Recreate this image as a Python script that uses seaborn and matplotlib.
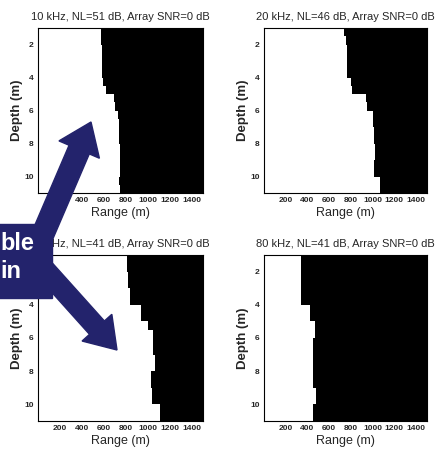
import matplotlib
matplotlib.use("Agg")
import matplotlib.pyplot as plt
from matplotlib.patches import FancyArrow, Rectangle
import seaborn as sns

# ----------------------------- #
# Data: detection boundary (m) per 0.5 m depth cell
# ----------------------------- #
depth_edges = [1.0, 1.5, 2.0, 2.5, 3.0, 3.5, 4.0, 4.5, 5.0, 5.5, 6.0,
               6.5, 7.0, 7.5, 8.0, 8.5, 9.0, 9.5, 10.0, 10.5, 11.0]

titles = ["10 kHz, NL=51 dB, Array SNR=0 dB",
          "20 kHz, NL=46 dB, Array SNR=0 dB",
          "40 kHz, NL=41 dB, Array SNR=0 dB",
          "80 kHz, NL=41 dB, Array SNR=0 dB"]

edge_10k = [575, 575, 578, 580, 582, 585, 595, 620, 690, 700,
            730, 735, 740, 740, 745, 745, 745, 745, 740, 745]
edge_20k = [733, 755, 760, 760, 767, 767, 800, 810, 940, 945,
            1000, 1005, 1015, 1015, 1018, 1018, 1010, 1015, 1065, 1065]
edge_40k = [805, 805, 820, 820, 835, 835, 940, 940, 1000, 1045,
            1045, 1045, 1065, 1065, 1030, 1030, 1040, 1040, 1105, 1105]
edge_80k = [343, 343, 343, 343, 343, 343, 420, 420, 466, 466,
            450, 450, 450, 450, 450, 450, 481, 481, 450, 450]
edges = [edge_10k, edge_20k, edge_40k, edge_80k]

range_ticks = [200, 400, 600, 800, 1000, 1200, 1400]
depth_ticks = [2, 4, 6, 8, 10]

# ----------------------------- #
# Figure
# ----------------------------- #
sns.set_theme(style="white")
plt.rcParams["font.family"] = ["Liberation Sans", "DejaVu Sans"]

W, H = 441, 458
fig = plt.figure(figsize=(W / 100, H / 100), dpi=100)
fig.patch.set_facecolor("white")

boxes = [(38, 28, 203, 193), (264, 28, 427, 193),
         (38, 255, 203, 421), (264, 255, 427, 421)]

for (l, t, r, b), title, edge in zip(boxes, titles, edges):
    ax = fig.add_axes([l / W, 1 - b / H, (r - l) / W, (b - t) / H])
    ax.set_facecolor("white")
    ax.fill_betweenx(depth_edges, edge + [edge[-1]], 1500,
                     step="post", color="black", lw=0)
    ax.set_xlim(0, 1500)
    ax.set_ylim(11, 1)
    ax.set_xticks(range_ticks)
    ax.set_yticks(depth_ticks)
    ax.tick_params(length=0, labelsize=6, pad=3)
    for lab in ax.get_xticklabels() + ax.get_yticklabels():
        lab.set_fontweight("bold")
    for sp in ax.spines.values():
        sp.set_color("black")
        sp.set_linewidth(0.8)
    ax.set_title(title, fontsize=8, pad=6)
    ax.set_xlabel("Range (m)", fontsize=9, labelpad=2)
    ax.set_ylabel("Depth (m)", fontsize=9.5, fontweight="bold", labelpad=1)

# ----------------------------- #
# Callout box + arrows
# ----------------------------- #
navy = "#23236c"
ov = fig.add_axes([0, 0, 1, 1])
ov.set_xlim(0, W)
ov.set_ylim(H, 0)
ov.axis("off")
ov.patch.set_alpha(0)

ov.add_patch(FancyArrow(34, 255, 91 - 34, 122 - 255, width=22, head_width=44,
                        head_length=30, length_includes_head=True,
                        fc=navy, ec=navy))
ov.add_patch(FancyArrow(38, 262, 117 - 38, 350 - 262, width=20, head_width=40,
                        head_length=30, length_includes_head=True,
                        fc=navy, ec=navy))
ov.add_patch(Rectangle((-2, 224), 54, 74, fc=navy, ec=navy))
ov.text(0, 244, "ble", color="white", fontsize=17, fontweight="bold",
        ha="left", va="center", family=["Liberation Sans", "DejaVu Sans"])
ov.text(0, 271, "in", color="white", fontsize=17, fontweight="bold",
        ha="left", va="center", family=["Liberation Sans", "DejaVu Sans"])

fig.savefig("out.png", dpi=100)
